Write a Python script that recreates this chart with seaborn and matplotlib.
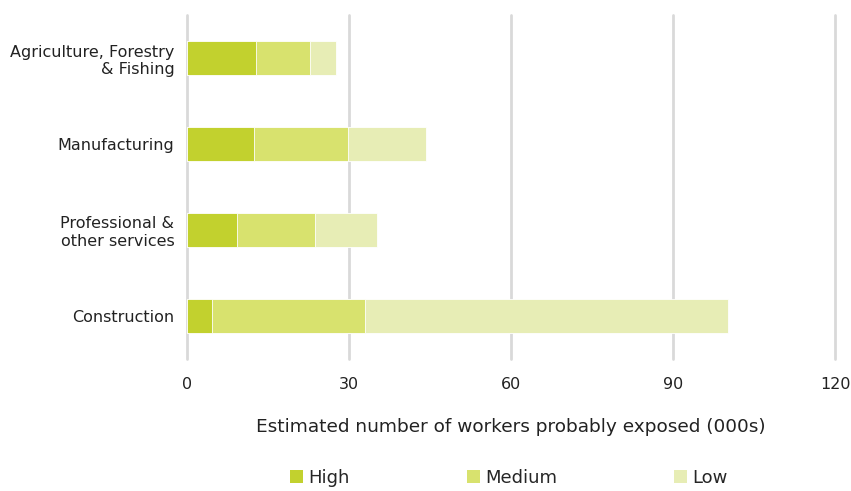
import matplotlib
matplotlib.use("Agg")
import matplotlib.pyplot as plt
import seaborn as sns
import pandas as pd
import numpy as np
from matplotlib.patches import Patch

sectors = ["Agriculture, Forestry\n& Fishing", "Manufacturing",
           "Professional &\nother services", "Construction"]
high = [12.8, 12.4, 9.3, 4.6]
medium = [10.0, 17.4, 14.4, 28.4]
low = [4.8, 14.5, 11.4, 67.1]
levels = ["High", "Medium", "Low"]
colors = {"High": "#C2D12E", "Medium": "#D8E26E", "Low": "#E7EDB5"}
xticks = [0, 30, 60, 90, 120]

sns.set_theme(style="white")
plt.rcParams["font.family"] = ["DejaVu Sans"]

# cumulative ends of each stacked segment
cum_high = np.array(high)
cum_med = cum_high + np.array(medium)
cum_low = cum_med + np.array(low)
df = pd.DataFrame({"sector": sectors, "High": cum_high,
                   "Medium": cum_med, "Low": cum_low})

fig = plt.figure(figsize=(8.51, 4.91), dpi=100)
ax = fig.add_axes([187 / 851, 1 - 359 / 491, (835 - 187) / 851, (359 - 15) / 491])

# vertical gridlines, drawn unclipped so the 120 line keeps full width
for t in xticks:
    ax.axvline(t, color="#D9D9D9", linewidth=2, zorder=0, clip_on=False)

# draw widest segment first so shorter ones sit on top
for lvl in ["Low", "Medium", "High"]:
    sns.barplot(data=df, x=lvl, y="sector", order=sectors, color=colors[lvl],
                width=0.4, orient="h", ax=ax, saturation=1,
                edgecolor="white", linewidth=0.6)

ax.set_xlim(0, 120)
ax.set_ylim(3.5, -0.5)
ax.set_xticks(xticks)
ax.set_xticklabels([str(t) for t in xticks], fontsize=11.5, color="#222222")
ax.tick_params(axis="y", labelsize=11.5, labelcolor="#222222", length=0, pad=9)
ax.tick_params(axis="x", length=0, pad=13)
for lbl in ax.get_yticklabels():
    lbl.set_horizontalalignment("right")
    lbl.set_multialignment("right")
for s in ax.spines.values():
    s.set_visible(False)
ax.set_ylabel("")
ax.set_xlabel("Estimated number of workers probably exposed (000s)",
              fontsize=13.3, color="#222222", labelpad=19)

handles = [Patch(facecolor=colors[l], edgecolor="none", label=l) for l in levels]
fig.legend(handles=handles, loc="center", bbox_to_anchor=(0.598, 0.027), ncol=3,
           frameon=False, fontsize=13, handlelength=0.7, handleheight=0.7,
           handletextpad=0.3, columnspacing=6.5)

fig.savefig("out.png", dpi=100)
